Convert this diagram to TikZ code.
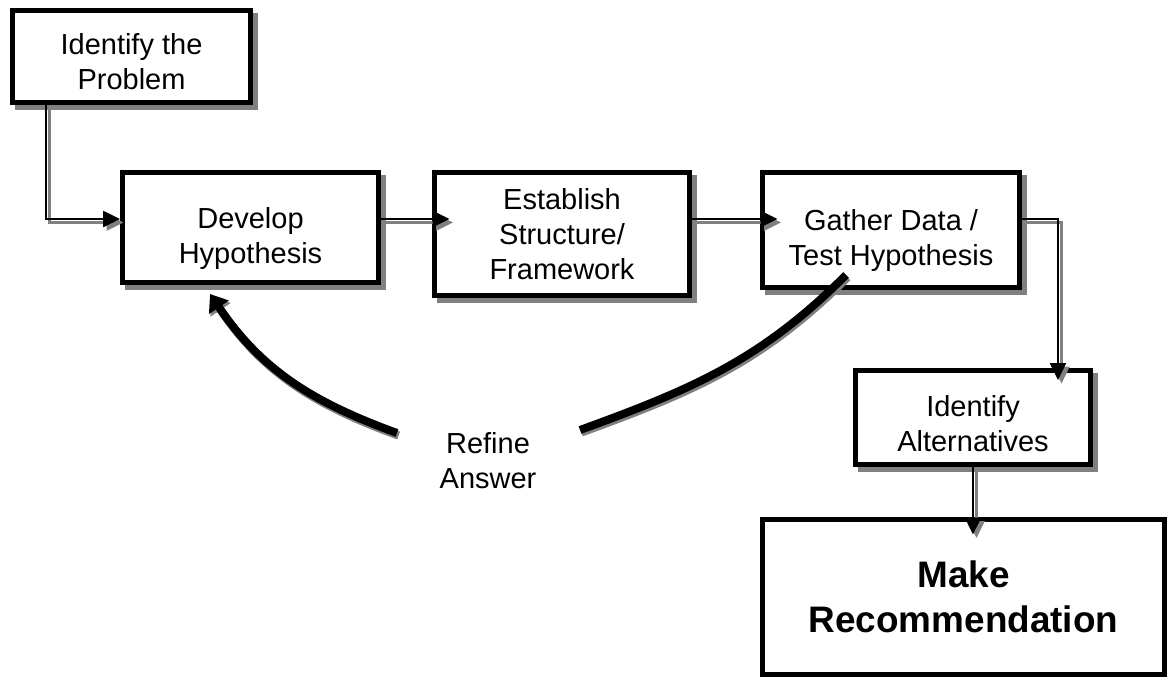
\documentclass[tikz,border=0pt]{standalone}
\usepackage{fontspec}
\setmainfont{Liberation Sans}
\usetikzlibrary{arrows.meta,shadows,calc}
\newcommand\pushtext[1]{\rule{0pt}{\dimexpr 12.2pt+#1\relax}}

\begin{document}
\begin{tikzpicture}[x=0.02cm,y=-0.02cm,
  box/.style={draw,line width=0.1cm,fill=white,align=center,inner sep=0pt,
    font=\fontsize{16.5}{20}\selectfont},
  shade/.style={drop shadow={shadow xshift=0.1cm,shadow yshift=-0.1cm,
    fill=gray,draw=gray,line width=0.1cm,opacity=1}},
  flow/.style={line width=0.05cm,-{Triangle[length=0.34cm,width=0.32cm]},shorten >=#1,
    preaction={draw=gray,line width=0.05cm,-{Triangle[length=0.34cm,width=0.32cm]},
      shorten >=#1,transform canvas={shift={(0.07cm,-0.07cm)}}}},
  flow/.default=0cm,
  refline/.style={line width=0.16cm,
    preaction={draw=gray,line width=0.16cm,transform canvas={shift={(0.03cm,-0.05cm)}}}},
  reftip/.style={-{Triangle[length=0.32cm,width=0.46cm]},
    preaction={draw=gray,line width=0.16cm,-{Triangle[length=0.32cm,width=0.46cm]},
      transform canvas={shift={(0.03cm,-0.05cm)}}}}]
\useasboundingbox (0,0) rectangle (1168,683);

\node[box,shade,minimum width=4.76cm,minimum height=1.84cm] (problem) at (131.5,56.5) {\pushtext{0.2cm}Identify the\\Problem};
\node[box,shade,minimum width=5.12cm,minimum height=2.2cm] (develop) at (250.5,227.5) {\pushtext{0.44cm}Develop\\Hypothesis};
\node[box,shade,minimum width=5.1cm,minimum height=2.46cm] (establish) at (562,234) {Establish\\Structure/\\Framework};
\node[box,shade,minimum width=5.14cm,minimum height=2.3cm] (gather) at (891,230) {\pushtext{0.4cm}Gather Data /\\Test Hypothesis};
\node[box,shade,minimum width=4.7cm,minimum height=1.88cm] (alternatives) at (973,417.5) {\pushtext{0.24cm}Identify\\Alternatives};
\node[box,minimum width=8.04cm,minimum height=3.1cm,font=\fontsize{21}{25.5}\selectfont\bfseries] (make) at (963.5,597) {Make\\Recommendation};
\node[font=\fontsize{16.5}{20}\selectfont,align=center] (refine) at (488,461) {Refine\\Answer};

\coordinate (lane) at (0,219);
\coordinate (rl) at (397,433);
\coordinate (rr) at (580,430);

\draw[flow] ($(problem.south west)+(36,0)$) |- (develop.west |- lane);
\draw[flow=-0.35cm] (develop.east |- lane) -- (establish.west |- lane);
\draw[flow=-0.35cm] (establish.east |- lane) -- (gather.west |- lane);
\draw[flow=-0.24cm] (gather.east |- lane) -| ($(alternatives.north east)+(-35,0)$);
\draw[flow=-0.35cm] (alternatives.south) -- (make.north -| alternatives.south);

\draw[refline] ($(gather.south west)+(86,-15)$) to[out=-135,in=20] (rr);
\draw[refline,reftip] (rl) to[out=160,in=-56] ($(develop.south west)+(90,9)$);
\end{tikzpicture}
\end{document}
